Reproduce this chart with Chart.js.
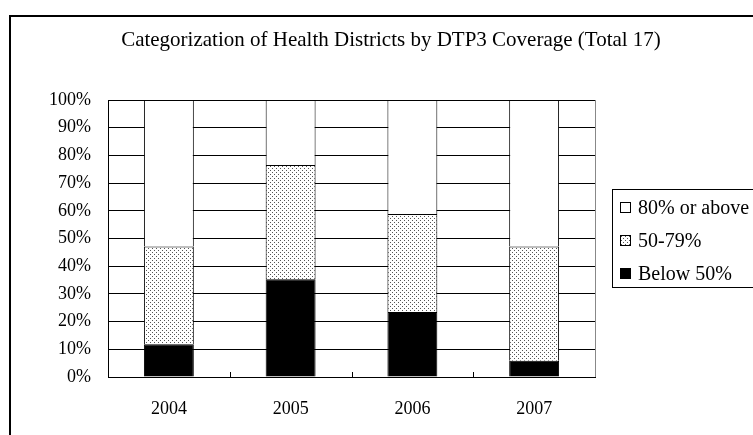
<!DOCTYPE html>
<html><head><meta charset="utf-8">
<script src="https://cdn.jsdelivr.net/npm/chart.js@4.4.0/dist/chart.umd.min.js"></script>
<style>
html,body{margin:0;padding:0;background:#fff;}
#wrap{position:relative;width:753px;height:435px;overflow:hidden;}
#c{position:absolute;left:0;top:0;}
#legend{position:absolute;left:612px;top:189px;width:170px;height:99px;border:1px solid #000;box-sizing:border-box;font-family:"Liberation Serif","Times New Roman",serif;font-size:20px;color:#000;}
.item{position:absolute;left:7px;height:22px;line-height:22px;display:flex;align-items:center;white-space:nowrap;}
.sw{width:11px;height:11px;border:1px solid #000;margin-right:7px;box-sizing:border-box;}
</style></head>
<body><div id="wrap"><canvas id="c" width="753" height="435"></canvas><div id="legend"></div></div>
<script>
const categories = ['2004', '2005', '2006', '2007'];
const below50 = [11.8, 35.3, 23.5, 5.9];
const mid5079 = [35.3, 41.2, 35.3, 41.2];
const above80 = [52.9, 23.5, 41.2, 52.9];
const seriesNames = ['Below 50%', '50-79%', '80% or above'];
const yMin = 0, yMax = 100, yStep = 10;
const titleText = 'Categorization of Health Districts by DTP3 Coverage (Total 17)';

const FONT = '"Liberation Serif","Times New Roman",serif';

const pc = document.createElement('canvas');
pc.width = 4; pc.height = 4;
const p = pc.getContext('2d');
p.fillStyle = '#fff'; p.fillRect(0, 0, 4, 4);
p.fillStyle = '#555'; p.fillRect(0, 0, 1, 1); p.fillRect(2, 2, 1, 1);
const canvas = document.getElementById('c');
const ctx = canvas.getContext('2d');
const dotPattern = ctx.createPattern(pc, 'repeat');

const frame = {
  id: 'frame',
  beforeDraw(chart) {
    const c = chart.ctx;
    c.save();
    c.fillStyle = '#fff';
    c.fillRect(0, 0, chart.width, chart.height);
    c.strokeStyle = '#000';
    c.lineWidth = 2;
    c.strokeRect(10, 16, 900, 600);
    c.restore();
  },
  afterDatasetsDraw(chart) {
    const c = chart.ctx, a = chart.chartArea, xs = chart.scales.x;
    c.save();
    c.strokeStyle = '#888';
    c.lineWidth = 1;
    c.beginPath();
    c.moveTo(Math.round(a.right) + 0.5, a.top);
    c.lineTo(Math.round(a.right) + 0.5, a.bottom);
    c.stroke();
    c.strokeStyle = '#000';
    c.beginPath();
    for (let i = 0; i < categories.length - 1; i++) {
      const x = Math.round((xs.getPixelForValue(i) + xs.getPixelForValue(i + 1)) / 2) + 0.5;
      c.moveTo(x, a.bottom);
      c.lineTo(x, a.bottom - 5);
    }
    c.stroke();
    c.fillStyle = '#000';
    c.font = '21px ' + FONT;
    c.textAlign = 'center';
    c.textBaseline = 'alphabetic';
    c.fillText(titleText, 391, 46);
    c.restore();
  }
};

new Chart(canvas, {
  type: 'bar',
  data: {
    labels: categories,
    datasets: [
      { label: seriesNames[0], data: below50, backgroundColor: '#000', borderColor: '#000', borderWidth: 1 },
      { label: seriesNames[1], data: mid5079, backgroundColor: dotPattern, borderColor: '#000', borderWidth: 1 },
      { label: seriesNames[2], data: above80, backgroundColor: '#fff', borderColor: '#000', borderWidth: 1 }
    ]
  },
  options: {
    responsive: false,
    animation: false,
    devicePixelRatio: 1,
    layout: { padding: { top: 100, right: 158, left: 0, bottom: 0 } },
    datasets: { bar: { categoryPercentage: 1, barPercentage: 0.41 } },
    plugins: { legend: { display: false }, title: { display: false }, tooltip: { enabled: false } },
    scales: {
      x: {
        stacked: true,
        grid: { display: false },
        border: { display: true, color: '#000', width: 1 },
        ticks: { color: '#000', font: { family: FONT, size: 18 }, padding: 13 },
        afterFit(s) { s.height = 58; }
      },
      y: {
        stacked: true,
        min: yMin, max: yMax,
        grid: { color: '#000', lineWidth: 1, drawTicks: false },
        border: { display: true, color: '#000', width: 1 },
        ticks: { stepSize: yStep, color: '#000', font: { family: FONT, size: 18 }, padding: 17, callback: v => v + '%' },
        afterFit(s) { s.width = 108; }
      }
    }
  },
  plugins: [frame]
});

const legend = document.getElementById('legend');
const swatches = [
  { name: seriesNames[2], bg: '#fff' },
  { name: seriesNames[1], bg: 'url(' + pc.toDataURL() + ')' },
  { name: seriesNames[0], bg: '#000' }
];
const tops = [6, 39, 72];
swatches.forEach((s, i) => {
  const it = document.createElement('div');
  it.className = 'item';
  it.style.top = tops[i] + 'px';
  const sw = document.createElement('span');
  sw.className = 'sw';
  sw.style.background = s.bg;
  it.appendChild(sw);
  it.appendChild(document.createTextNode(s.name));
  legend.appendChild(it);
});
</script></body></html>
